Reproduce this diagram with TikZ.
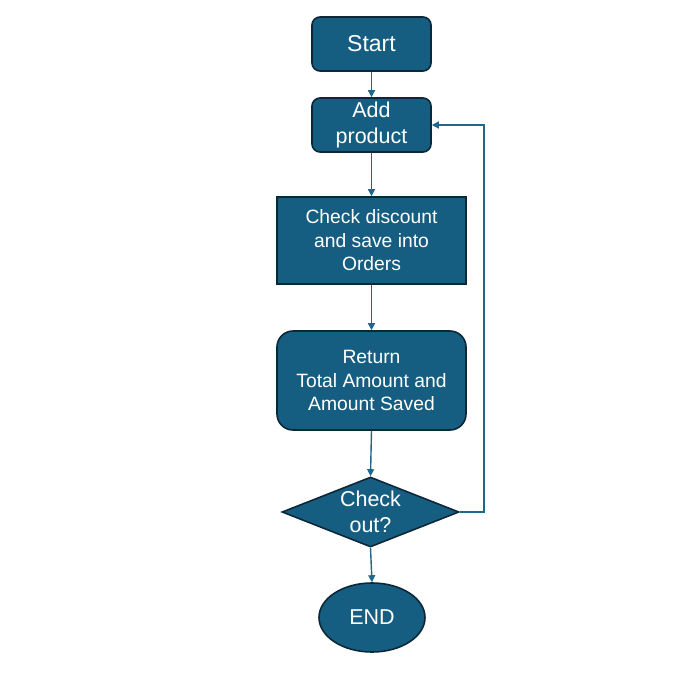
\documentclass[tikz,border=0pt]{standalone}
\usepackage{fontspec}
\setmainfont{Liberation Sans}
\usetikzlibrary{arrows.meta,shapes.geometric}
\definecolor{boxfill}{RGB}{22,94,129}
\definecolor{boxline}{RGB}{12,40,56}
\definecolor{flowline}{RGB}{30,104,140}
\tikzset{
  x=1pt, y=-1pt,
  every node/.style={text=white, align=center, inner sep=0pt},
  block/.style={draw=boxline, line width=1.6pt, fill=boxfill},
  termbox/.style={block, rounded corners=8pt, minimum width=119pt, minimum height=54pt},
  procbox/.style={block, minimum width=189pt, minimum height=87pt},
  resultbox/.style={block, rounded corners=16pt, minimum width=189pt, minimum height=99pt},
  decision/.style={block, diamond, minimum width=177pt, minimum height=70pt},
  endcap/.style={block, ellipse, minimum width=106pt, minimum height=69pt},
  flow/.style={draw=flowline, line width=1.4pt, -{Triangle[length=7pt,width=7pt]}},
  big/.style={font=\fontsize{23}{27.6}\selectfont},
  mid/.style={font=\fontsize{21.5}{26.5}\selectfont},
  small/.style={font=\fontsize{19.3}{23.5}\selectfont},
}
\begin{document}
\begin{tikzpicture}
\useasboundingbox (0,0) rectangle (699,691);
\fill[white] (0,0) rectangle (699,691);

\node[termbox, big] (start) at (371.5,44) {Start};
\node[termbox, mid] (add) at (371.5,125) {Add\\product};
\node[procbox, small] (check) at (371.5,240.5) {Check discount\\and save into\\Orders};
\node[resultbox, small] (ret) at (371.5,380.5) {Return\\Total Amount and\\Amount Saved};
\node[decision, label={[mid, text=white, align=center]center:Check\\out?}] (dec) at (370.5,512) {};
\node[endcap, mid] (fin) at (372,617.5) {END};

\coordinate (loopbot) at (484,512);
\coordinate (looptop) at (484,125);

\draw[flow] (start) -- (add);
\draw[flow] (add) -- (check);
\draw[flow] (check) -- (ret);
\draw[flow] (ret.south) -- (dec.north);
\draw[flow] (dec.south) -- (fin.north);
\draw[flow] (dec.east) -- (loopbot) -- (looptop) -- (add.east);
\end{tikzpicture}
\end{document}
